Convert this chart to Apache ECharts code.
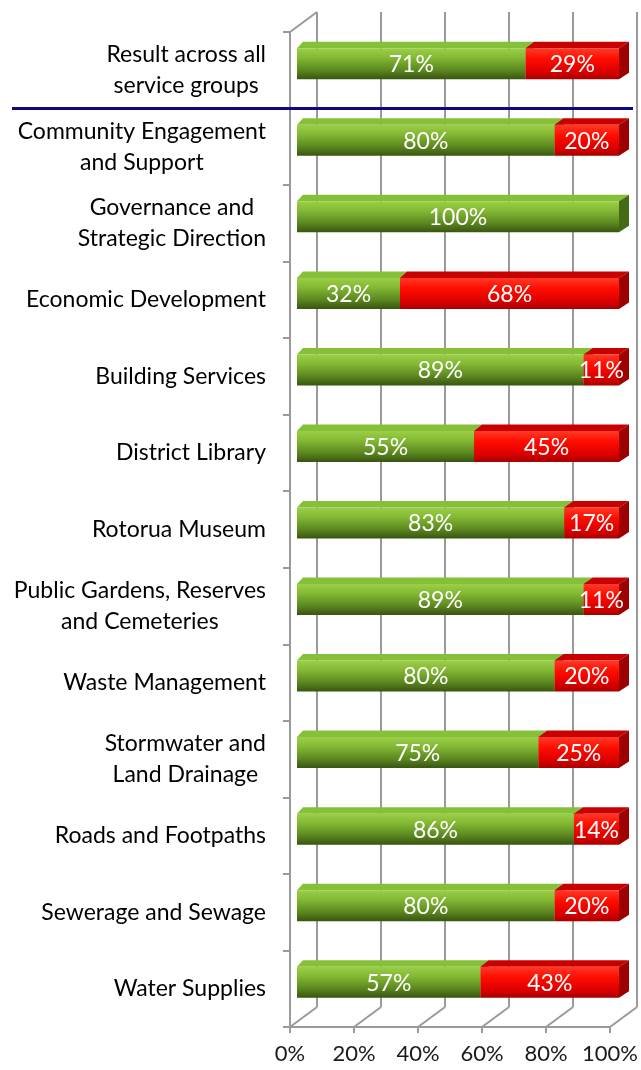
<!DOCTYPE html>
<html>
<head>
<meta charset="utf-8">
<script src="https://cdn.jsdelivr.net/npm/echarts@6/dist/echarts.min.js"></script>
<style>
  html, body { margin: 0; padding: 0; background: #fff; }
  #chart { width: 641px; height: 1070px; }
</style>
</head>
<body>
<div id="chart"></div>
<script>
// service groups, top to bottom
const categories = [
  'Result across all\nservice groups',
  'Community Engagement\nand Support',
  'Governance and\nStrategic Direction',
  'Economic Development',
  'Building Services',
  'District Library',
  'Rotorua Museum',
  'Public Gardens, Reserves\nand Cemeteries',
  'Waste Management',
  'Stormwater and\nLand Drainage',
  'Roads and Footpaths',
  'Sewerage and Sewage',
  'Water Supplies'
]
// green part / red part (percent)
const achieved = [71, 80, 100, 32, 89, 55, 83, 89, 80, 75, 86, 80, 57]
const notAchieved = [29, 20, 0, 68, 11, 45, 17, 11, 20, 25, 14, 20, 43]
const xTicks = [0, 20, 40, 60, 80, 100]

const FONT = 'Lato, "Open Sans", sans-serif'
const GRID_COLOR = '#9a9a9a'
// front floor edge, back wall offset, bar plane
const front = { left: 290, top: 32, width: 320, height: 995 }
const depth = [27, -20]
const barPlane = { left: 297, top: 25.5, width: 322, height: 995 }

// stacked segments: [category, start, end, kind]
const segments = []
categories.forEach(function (c, i) {
  segments.push([i, 0, achieved[i], 0])
  segments.push([i, achieved[i], achieved[i] + notAchieved[i], 1])
})

const greenFront = new echarts.graphic.LinearGradient(0, 0, 0, 1, [
  { offset: 0, color: '#9ccf48' },
  { offset: 0.3, color: '#84b934' },
  { offset: 0.7, color: '#5c8820' },
  { offset: 1, color: '#385510' }
])
const redFront = new echarts.graphic.LinearGradient(0, 0, 0, 1, [
  { offset: 0, color: '#ff3a28' },
  { offset: 0.35, color: '#ff0c00' },
  { offset: 0.75, color: '#dc0000' },
  { offset: 1, color: '#a80000' }
])
const faces = [
  { front: greenFront, top: '#86bf38', side: '#456a16' },
  { front: redFront, top: '#c80000', side: '#9c0000' }
]

function renderBar(params, api) {
  const idx = api.value(0)
  const s = api.value(1)
  const e = api.value(2)
  const kind = api.value(3)
  if (e - s <= 0) return
  const cs = params.coordSys
  const p0 = api.coord([s, idx])
  const p1 = api.coord([e, idx])
  const band = api.size([0, 1])[1]
  const h = band * 0.405
  const top = p0[1] - h / 2
  const bottom = top + h
  const dy = -6.5
  const dxAt = function (x) { return 6 + 4 * (x - cs.x) / cs.width }
  const x0 = p0[0], x1 = p1[0]
  const d0 = dxAt(x0), d1 = dxAt(x1)
  const f = faces[kind]
  return {
    type: 'group',
    children: [
      {
        type: 'polygon',
        shape: { points: [[x0, top], [x0 + d0, top + dy], [x1 + d1, top + dy], [x1, top]] },
        style: { fill: f.top }
      },
      {
        type: 'polygon',
        shape: { points: [[x1, top], [x1 + d1, top + dy], [x1 + d1, bottom + dy], [x1, bottom]] },
        style: { fill: f.side }
      },
      {
        type: 'rect',
        shape: { x: x0, y: top, width: x1 - x0, height: h },
        style: { fill: f.front }
      },
      {
        type: 'text',
        x: (x0 + x1) / 2,
        y: (top + bottom) / 2 + 1,
        style: {
          text: Math.round(e - s) + '%',
          fill: '#fff',
          font: '23px ' + FONT,
          align: 'center',
          verticalAlign: 'middle'
        }
      }
    ]
  }
}

// slanted floor lines and the top edge of the side wall
function renderFloor(params, api) {
  const cs = params.coordSys
  const v = api.value(0)
  const x = api.coord([v, 0])[0]
  const yb = cs.y + cs.height
  const children = [{
    type: 'line',
    shape: { x1: x, y1: yb, x2: x + depth[0], y2: yb + depth[1] },
    style: { stroke: GRID_COLOR, lineWidth: 2 }
  }]
  if (v === xTicks[0]) {
    children.push({
      type: 'line',
      shape: { x1: x, y1: cs.y, x2: x + depth[0], y2: cs.y + depth[1] },
      style: { stroke: GRID_COLOR, lineWidth: 2 }
    })
  }
  return { type: 'group', children: children }
}

// navy separator under the overall result
function renderSeparator(params, api) {
  const a = api.coord([0, 0])[1]
  const b = api.coord([0, 1])[1]
  const y = (a + b) / 2
  return {
    type: 'line',
    shape: { x1: 12, y1: y, x2: 633, y2: y },
    style: { stroke: '#0a0a82', lineWidth: 3 }
  }
}

const chart = echarts.init(document.getElementById('chart'))

chart.setOption({
  animation: false,
  backgroundColor: '#fff',
  textStyle: { fontFamily: FONT },
  grid: [
    { left: front.left, top: front.top, width: front.width, height: front.height },
    { left: front.left + depth[0], top: front.top + depth[1], width: front.width, height: front.height },
    { left: barPlane.left, top: barPlane.top, width: barPlane.width, height: barPlane.height }
  ],
  xAxis: [
    {
      gridIndex: 0, type: 'value', min: 0, max: 100, interval: 20,
      axisLine: { show: true, lineStyle: { color: GRID_COLOR, width: 2 } },
      axisTick: { show: true, length: 6, lineStyle: { color: GRID_COLOR, width: 2 } },
      axisLabel: { formatter: '{value}%', fontSize: 22, color: '#1a1a1a', margin: 16, fontFamily: FONT },
      splitLine: { show: false }
    },
    {
      gridIndex: 1, type: 'value', min: 0, max: 100, interval: 20,
      axisLine: { show: false }, axisTick: { show: false }, axisLabel: { show: false },
      splitLine: { show: true, lineStyle: { color: GRID_COLOR, width: 2 } }
    },
    { gridIndex: 2, type: 'value', min: 0, max: 100, show: false }
  ],
  yAxis: [
    {
      gridIndex: 0, type: 'category', data: categories, inverse: true,
      axisLine: { show: true, lineStyle: { color: GRID_COLOR, width: 2 } },
      axisTick: { show: true, length: 7, lineStyle: { color: GRID_COLOR, width: 2 } },
      axisLabel: {
        margin: 24,
        formatter: function (v) {
          return v.split('\n').map(function (l) { return '{c|' + l + '}' }).join('\n')
        },
        rich: {
          c: { align: 'center', fontSize: 23, lineHeight: 31, color: '#000', fontFamily: FONT }
        }
      }
    },
    { gridIndex: 1, type: 'value', show: false },
    { gridIndex: 2, type: 'category', data: categories, inverse: true, show: false }
  ],
  series: [
    {
      type: 'custom', xAxisIndex: 0, yAxisIndex: 0, z: 1,
      renderItem: renderFloor, data: xTicks.map(function (v) { return [v] }), silent: true
    },
    {
      type: 'custom', xAxisIndex: 2, yAxisIndex: 2, z: 3,
      renderItem: renderBar, data: segments, silent: true,
      encode: { x: [1, 2], y: 0 }
    },
    {
      type: 'custom', xAxisIndex: 0, yAxisIndex: 0, z: 10,
      renderItem: renderSeparator, data: [[0]], silent: true, clip: false
    }
  ]
})
</script>
</body>
</html>
